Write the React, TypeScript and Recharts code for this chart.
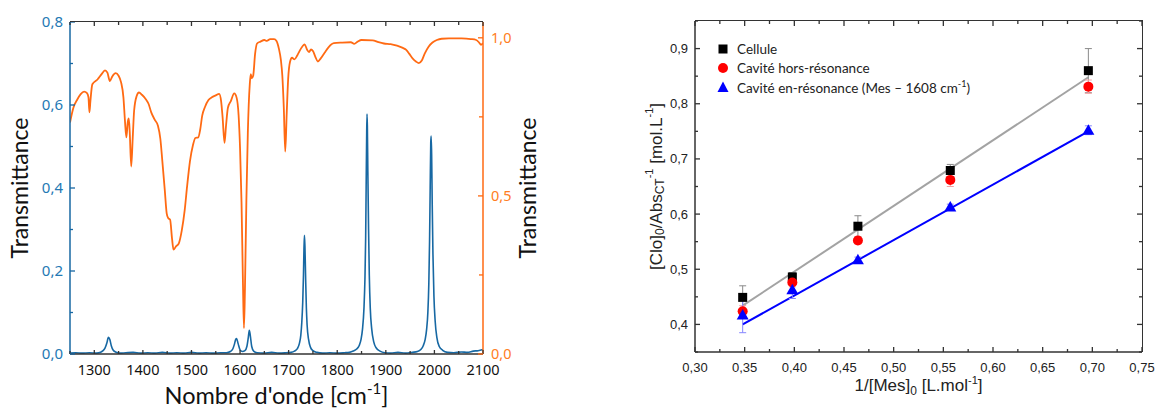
import React from "react";
import {
  LineChart,
  ComposedChart,
  Line,
  Scatter,
  XAxis,
  YAxis,
  ErrorBar,
  Legend,
  Label,
} from "recharts";

// ---- left panel: IR spectra ----
const wnOrange = [
  1250, 1257, 1265, 1272, 1279, 1285, 1288, 1290, 1292, 1296, 1307, 1315, 1322, 1327, 1332, 1337, 1344,
  1350, 1355, 1360, 1363, 1366, 1369, 1371, 1373, 1376, 1379, 1382, 1387, 1392, 1398, 1406, 1412, 1417,
  1424, 1431, 1436, 1440, 1445, 1449, 1452, 1456, 1460, 1463, 1468, 1474, 1480, 1486, 1491, 1497, 1503,
  1508, 1514, 1518, 1522, 1528, 1535, 1542, 1550, 1557, 1561, 1564, 1568, 1571, 1575, 1581, 1588, 1593,
  1597, 1600, 1603, 1606, 1608, 1610, 1613, 1616, 1620, 1622, 1624, 1627, 1631, 1635, 1642, 1650, 1655,
  1662, 1670, 1675, 1680, 1684, 1687, 1690, 1693, 1696, 1699, 1703, 1707, 1712, 1718, 1725, 1733, 1738,
  1742, 1746, 1750, 1755, 1760, 1766, 1774, 1782, 1793, 1810, 1828, 1835, 1842, 1850, 1873, 1885, 1896,
  1910, 1923, 1935, 1942, 1948, 1955, 1962, 1968, 1974, 1980, 1988, 1996, 2005, 2015, 2030, 2056, 2075,
  2086, 2092, 2096, 2100,
];
const tOrange = [
  0.732, 0.779, 0.805, 0.822, 0.83, 0.825, 0.812, 0.764, 0.8, 0.853, 0.869, 0.885, 0.897, 0.89, 0.863, 0.878, 0.888,
  0.88, 0.86, 0.811, 0.74, 0.685, 0.735, 0.745, 0.7, 0.593, 0.68, 0.77, 0.815, 0.827, 0.82, 0.806, 0.79, 0.765,
  0.742, 0.722, 0.68, 0.611, 0.52, 0.445, 0.43, 0.425, 0.365, 0.33, 0.34, 0.35, 0.39, 0.454, 0.53, 0.611, 0.66,
  0.683, 0.685, 0.71, 0.753, 0.782, 0.803, 0.812, 0.818, 0.823, 0.8, 0.75, 0.668, 0.72, 0.779, 0.8, 0.824, 0.81,
  0.755, 0.65, 0.48, 0.22, 0.082, 0.2, 0.485, 0.7, 0.853, 0.885, 0.872, 0.88, 0.95, 0.982, 0.988, 0.993, 0.99,
  0.996, 0.996, 0.99, 0.965, 0.93, 0.88, 0.78, 0.64, 0.76, 0.87, 0.925, 0.937, 0.932, 0.945, 0.965, 0.979, 0.962,
  0.955, 0.963, 0.958, 0.94, 0.925, 0.935, 0.953, 0.97, 0.983, 0.985, 0.986, 0.981, 0.988, 0.993, 0.992, 0.986, 0.982,
  0.98, 0.975, 0.968, 0.962, 0.95, 0.935, 0.925, 0.92, 0.928, 0.95, 0.972, 0.985, 0.993, 0.997, 0.998, 0.998, 0.996,
  0.993, 0.985, 0.978, 0.983,
];
const wnBlue = [
  1250, 1262, 1275, 1290, 1305, 1313, 1318, 1322, 1326, 1329, 1332, 1335, 1339, 1345, 1352, 1365, 1380, 1395,
  1410, 1425, 1440, 1455, 1470, 1485, 1500, 1515, 1530, 1545, 1560, 1572, 1580, 1585, 1588, 1591, 1593, 1596,
  1600, 1605, 1610, 1614, 1617, 1619, 1621, 1624, 1628, 1635, 1650, 1665, 1680, 1695, 1705, 1712, 1718, 1722,
  1725, 1727, 1729, 1730.5, 1731.5, 1732.5, 1733.5, 1735, 1736.5, 1738, 1741, 1745, 1750, 1758, 1770, 1785,
  1800, 1815, 1825, 1833, 1840, 1845, 1849, 1852, 1855, 1857, 1858.5, 1859.5, 1860.5, 1861.3, 1862, 1863,
  1864.5, 1866, 1868, 1871, 1875, 1880, 1888, 1898, 1910, 1925, 1940, 1955, 1965, 1972, 1977, 1981, 1984,
  1986.5, 1988.5, 1990, 1991.3, 1992.5, 1993.3, 1994.3, 1995.5, 1997, 1999, 2001.5, 2005, 2010, 2017, 2027,
  2040, 2055, 2068, 2080, 2090, 2100,
];
const tBlue = [
  0.002, 0.003, 0.002, 0.003, 0.002, 0.004, 0.008, 0.014, 0.027, 0.04, 0.035, 0.02, 0.009, 0.004, 0.002, 0.003, 0.004, 0.002,
  0.003, 0.002, 0.004, 0.002, 0.003, 0.002, 0.004, 0.002, 0.003, 0.002, 0.003, 0.003, 0.006, 0.012, 0.022, 0.035, 0.037, 0.025,
  0.01, 0.006, 0.008, 0.018, 0.04, 0.057, 0.045, 0.018, 0.007, 0.003, 0.002, 0.004, 0.002, 0.003, 0.004, 0.007, 0.013, 0.025,
  0.045, 0.075, 0.125, 0.19, 0.25, 0.286, 0.26, 0.18, 0.11, 0.07, 0.035, 0.016, 0.008, 0.004, 0.002, 0.003,
  0.002, 0.003, 0.004, 0.007, 0.012, 0.02, 0.035, 0.06, 0.11, 0.18, 0.28, 0.4, 0.52, 0.578, 0.55, 0.44,
  0.3, 0.19, 0.11, 0.06, 0.03, 0.015, 0.007, 0.003, 0.002, 0.004, 0.002, 0.004, 0.006, 0.011, 0.02, 0.035, 0.06,
  0.1, 0.17, 0.27, 0.4, 0.51, 0.525, 0.48, 0.36, 0.24, 0.14, 0.08, 0.04, 0.018, 0.009, 0.004,
  0.003, 0.005, 0.004, 0.007, 0.008, 0.011,
];
const specTicksX = [1250, 1300, 1350, 1400, 1450, 1500, 1550, 1600, 1650, 1700, 1750, 1800, 1850, 1900, 1950, 2000, 2050, 2100];
const specMajorsX = [1300, 1400, 1500, 1600, 1700, 1800, 1900, 2000, 2100];
const specTicksL = [0, 0.1, 0.2, 0.3, 0.4, 0.5, 0.6, 0.7, 0.8];
const specMajorsL = [0, 0.2, 0.4, 0.6, 0.8];
const specTicksR = [0, 0.25, 0.5, 0.75, 1];
const specMajorsR = [0, 0.5, 1];

// ---- right panel: [Clo]0/Abs vs 1/[Mes]0 ----
const mesInv = [0.348, 0.398, 0.464, 0.557, 0.696];
const cellY = [0.449, 0.486, 0.578, 0.679, 0.86];
const cellErr = [0.021, 0.008, 0.019, 0.011, 0.04];
const horsY = [0.424, 0.476, 0.552, 0.662, 0.831];
const horsErr = [0.01, 0.008, 0.006, 0.012, 0.012];
const resY = [0.417, 0.463, 0.517, 0.613, 0.752];
const resErr = [0.032, 0.016, 0.005, 0.005, 0.008];
const fitX = [0.348, 0.696];
const fitCell = [0.434, 0.848];
const fitRes = [0.4, 0.75];
const legendLabels = [["Cellule"], ["Cavité hors-résonance"], ["Cavité en-résonance (Mes – 1608 cm", "-1", ")"]];
const rTicksX = [0.3, 0.325, 0.35, 0.375, 0.4, 0.425, 0.45, 0.475, 0.5, 0.525, 0.55, 0.575, 0.6, 0.625, 0.65, 0.675, 0.7, 0.725, 0.75];
const rMajorsX = [0.3, 0.35, 0.4, 0.45, 0.5, 0.55, 0.6, 0.65, 0.7, 0.75];
const rTicksY = [0.35, 0.4, 0.45, 0.5, 0.55, 0.6, 0.65, 0.7, 0.75, 0.8, 0.85, 0.9, 0.95];
const rMajorsY = [0.4, 0.5, 0.6, 0.7, 0.8, 0.9];

const zip = (xs: number[], ys: number[], es?: number[]) =>
  xs.map((x, i) => ({ x, y: ys[i], e: es ? es[i] : 0 }));

const BLUE = "#1768a3";
const BLUE_TXT = "#2479b4";
const ORANGE = "#ff6a13";
const ORANGE_TXT = "#ff7d22";
const FRAME = "#333";

type TickOpts = {
  side: "left" | "right" | "bottom";
  pos: number;
  mirror?: number; // opposite frame edge that gets the same inward ticks
  majors: number[];
  fmt?: (v: number) => string;
  majLen: number;
  minLen: number;
  stroke: string;
  color?: string;
  font?: string;
  size?: number;
  gap?: number;
};

// draws inward tick marks (major / minor), mirrored ticks and the label for majors
const makeTick = (o: TickOpts) => (p: any) => {
  const v = p.payload.value;
  const isMaj = o.majors.some((m) => Math.abs(m - v) < 1e-6);
  const len = isMaj ? o.majLen : o.minLen;
  const label = isMaj && o.fmt ? o.fmt(v) : null;
  const tp = { fill: o.color, fontFamily: o.font, fontSize: o.size };
  const gap = o.gap ?? 6;
  if (o.side === "left" || o.side === "right") {
    const y = p.y;
    const dir = o.side === "left" ? 1 : -1;
    return (
      <g>
        <rect x={dir > 0 ? o.pos : o.pos - len} y={y - 0.65} width={len} height={1.3} fill={o.stroke} />
        {o.mirror != null && (
          <rect x={dir > 0 ? o.mirror - len : o.mirror} y={y - 0.65} width={len} height={1.3} fill={o.stroke} />
        )}
        {label && (
          <text x={o.pos - dir * gap} y={y} dy="0.35em" textAnchor={o.side === "left" ? "end" : "start"} {...tp}>
            {label}
          </text>
        )}
      </g>
    );
  }
  const x = p.x;
  return (
    <g>
      <rect x={x - 0.65} y={o.pos - len} width={1.3} height={len} fill={o.stroke} />
      {o.mirror != null && <rect x={x - 0.65} y={o.mirror} width={1.3} height={len} fill={o.stroke} />}
      {label && (
        <text x={x} y={o.pos + gap} dy="0.75em" textAnchor="middle" {...tp}>
          {label}
        </text>
      )}
    </g>
  );
};

const comma = (d: number) => (v: number) => v.toFixed(d).replace(".", ",");

// closes the plot box along its top (and right) edge
const FrameBox = ({ x0, x1, y0, y1, w, right }: { x0: number; x1: number; y0: number; y1: number; w: number; right: boolean }) => (
  <div
    style={{
      position: "absolute",
      left: x0,
      top: y0 - w / 2,
      width: x1 - x0 + (right ? w / 2 : 0),
      height: y1 - y0 + w / 2,
      boxSizing: "border-box",
      borderTop: `${w}px solid ${FRAME}`,
      borderRight: right ? `${w}px solid ${FRAME}` : "none",
      pointerEvents: "none",
    }}
  />
);

const SpectraChart = () => {
  const X0 = 70, X1 = 483, Y0 = 22, Y1 = 354;
  const orangeData = zip(wnOrange, tOrange);
  const blueData = zip(wnBlue, tBlue);
  const titleFont = "Lato";
  return (
    <div style={{ position: "relative", width: 560, height: 408 }}>
      <LineChart width={560} height={408} margin={{ top: Y0, right: 0, bottom: 0, left: 0 }}>
        <XAxis
          type="number"
          dataKey="x"
          domain={[1250, 2100]}
          ticks={specTicksX}
          interval={0}
          height={408 - Y1}
          allowDataOverflow
          tickLine={false}
          axisLine={{ stroke: FRAME, strokeWidth: 1.3 }}
          tick={makeTick({ side: "bottom", pos: Y1, mirror: Y0, majors: specMajorsX, fmt: (v) => String(v), majLen: 4, minLen: 3, stroke: FRAME, color: "#111", font: "Noto Sans", size: 14.5, gap: 10 })}
        >
          <Label
            content={() => (
              <text x={(X0 + X1) / 2} y={404} textAnchor="middle" fontFamily={titleFont} fontSize={23.5} fill="#111">
                Nombre d'onde [cm<tspan dy={-10} fontSize={15}>-1</tspan>
                <tspan dy={10}>]</tspan>
              </text>
            )}
          />
        </XAxis>
        <YAxis
          type="number"
          dataKey="y"
          domain={[0, 0.8]}
          ticks={specTicksL}
          interval={0}
          width={X0}
          allowDataOverflow
          tickLine={false}
          axisLine={{ stroke: BLUE, strokeWidth: 1.5 }}
          tick={makeTick({ side: "left", pos: X0, majors: specMajorsL, fmt: comma(1), majLen: 5, minLen: 3, stroke: BLUE, color: BLUE_TXT, font: "Noto Sans", size: 15, gap: 7 })}
        >
          <Label
            content={() => (
              <text x={19} y={(Y0 + Y1) / 2} transform={`rotate(-90 19 ${(Y0 + Y1) / 2})`} textAnchor="middle" dominantBaseline="central" fontFamily={titleFont} fontSize={23} fill="#111">
                Transmittance
              </text>
            )}
          />
        </YAxis>
        <YAxis
          yAxisId="r"
          orientation="right"
          type="number"
          dataKey="y"
          domain={[0, 1.05]}
          ticks={specTicksR}
          interval={0}
          width={560 - X1}
          allowDataOverflow
          tickLine={false}
          axisLine={{ stroke: ORANGE, strokeWidth: 1.5 }}
          tick={makeTick({ side: "right", pos: X1, majors: specMajorsR, fmt: comma(1), majLen: 5, minLen: 4, stroke: ORANGE, color: ORANGE_TXT, font: "Noto Sans", size: 14.5, gap: 8 })}
        >
          <Label
            content={() => (
              <text x={527} y={(Y0 + Y1) / 2} transform={`rotate(-90 527 ${(Y0 + Y1) / 2})`} textAnchor="middle" dominantBaseline="central" fontFamily={titleFont} fontSize={23} fill="#111">
                Transmittance
              </text>
            )}
          />
        </YAxis>
        <Line data={orangeData} yAxisId="r" dataKey="y" type="monotone" stroke={ORANGE} strokeWidth={1.8} dot={false} isAnimationActive={false} />
        <Line data={blueData} dataKey="y" type="monotone" stroke={BLUE} strokeWidth={1.6} dot={false} isAnimationActive={false} />
      </LineChart>
      <FrameBox x0={X0} x1={X1} y0={Y0} y1={Y1} w={1.3} right={false} />
    </div>
  );
};

const squareShape = (p: any) => <rect x={p.cx - 4.5} y={p.cy - 4.5} width={9} height={9} fill="#000" />;
const circleShape = (p: any) => <circle cx={p.cx} cy={p.cy} r={5} fill="#f00" />;
const triangleShape = (p: any) => (
  <polygon points={`${p.cx},${p.cy - 6} ${p.cx - 6},${p.cy + 4.5} ${p.cx + 6},${p.cy + 4.5}`} fill="#0000ff" />
);

const legendIcons = [
  <rect key="s" x={1.5} y={1.5} width={9} height={9} fill="#000" />,
  <circle key="c" cx={6} cy={6} r={5} fill="#f00" />,
  <polygon key="t" points="6,0.5 0.5,11 11.5,11" fill="#0000ff" />,
];

const renderLegend = () => (
  <div style={{ fontFamily: "Lato", fontSize: 13.5, color: "#222" }}>
    {legendLabels.map((parts, i) => (
      <div key={i} style={{ display: "flex", alignItems: "center", height: 19, whiteSpace: "nowrap" }}>
        <svg width={12} height={12}>{legendIcons[i]}</svg>
        <span style={{ marginLeft: 8 }}>
          {parts[0]}
          {parts[1] && <sup style={{ fontSize: 9 }}>{parts[1]}</sup>}
          {parts[2]}
        </span>
      </div>
    ))}
  </div>
);

const RegressionChart = () => {
  const X0 = 95, X1 = 542, Y0 = 21, Y1 = 352;
  const tickFont = "Liberation Sans";
  return (
    <div style={{ position: "relative", width: 556, height: 408 }}>
      <ComposedChart width={556} height={408} margin={{ top: Y0, right: 556 - X1, bottom: 0, left: 0 }}>
        <XAxis
          type="number"
          dataKey="x"
          domain={[0.3, 0.75]}
          ticks={rTicksX}
          interval={0}
          height={408 - Y1}
          allowDataOverflow
          tickLine={false}
          axisLine={{ stroke: FRAME, strokeWidth: 1.5 }}
          tick={makeTick({ side: "bottom", pos: Y1, mirror: Y0, majors: rMajorsX, fmt: comma(2), majLen: 5, minLen: 3, stroke: FRAME, color: "#222", font: tickFont, size: 13, gap: 10 })}
        >
          <Label
            content={() => (
              <text x={(X0 + X1) / 2} y={391} textAnchor="middle" fontFamily={tickFont} fontSize={17} fill="#222">
                1/[Mes]<tspan dy={4} fontSize={12}>0</tspan>
                <tspan dy={-4}> [L.mol</tspan>
                <tspan dy={-7} fontSize={11}>-1</tspan>
                <tspan dy={7}>]</tspan>
              </text>
            )}
          />
        </XAxis>
        <YAxis
          type="number"
          dataKey="y"
          domain={[0.35, 0.95]}
          ticks={rTicksY}
          interval={0}
          width={X0}
          allowDataOverflow
          tickLine={false}
          axisLine={{ stroke: FRAME, strokeWidth: 1.5 }}
          tick={makeTick({ side: "left", pos: X0, mirror: X1, majors: rMajorsY, fmt: comma(1), majLen: 5, minLen: 3, stroke: FRAME, color: "#222", font: tickFont, size: 13, gap: 7 })}
        >
          <Label
            content={() => (
              <text x={56} y={(Y0 + Y1) / 2} transform={`rotate(-90 56 ${(Y0 + Y1) / 2})`} textAnchor="middle" dominantBaseline="central" fontFamily={tickFont} fontSize={17} fill="#222">
                [Clo]<tspan dy={4} fontSize={12}>0</tspan>
                <tspan dy={-4}>/Abs</tspan>
                <tspan dy={4} fontSize={12}>CT</tspan>
                <tspan dy={-11} fontSize={11}>-1</tspan>
                <tspan dy={7}> [mol.L</tspan>
                <tspan dy={-7} fontSize={11}>-1</tspan>
                <tspan dy={7}>]</tspan>
              </text>
            )}
          />
        </YAxis>
        <Line data={zip(fitX, fitCell)} dataKey="y" type="linear" stroke="#a3a3a3" strokeWidth={2} dot={false} isAnimationActive={false} />
        <Line data={zip(fitX, fitRes)} dataKey="y" type="linear" stroke="#0000ff" strokeWidth={2} dot={false} isAnimationActive={false} />
        <Scatter data={zip(mesInv, cellY, cellErr)} dataKey="y" shape={squareShape} isAnimationActive={false}>
          <ErrorBar dataKey="e" direction="y" width={3.5} stroke="#8a8a8a" strokeWidth={1} />
        </Scatter>
        <Scatter data={zip(mesInv, horsY, horsErr)} dataKey="y" shape={circleShape} isAnimationActive={false}>
          <ErrorBar dataKey="e" direction="y" width={3.5} stroke="#f3a0a0" strokeWidth={1} />
        </Scatter>
        <Scatter data={zip(mesInv, resY, resErr)} dataKey="y" shape={triangleShape} isAnimationActive={false}>
          <ErrorBar dataKey="e" direction="y" width={3.5} stroke="#8585ff" strokeWidth={1} />
        </Scatter>
        <Legend
          content={renderLegend}
          layout="vertical"
          align="center"
          verticalAlign="middle"
          wrapperStyle={{ left: 117, top: 39, width: "auto", height: "auto" }}
        />
      </ComposedChart>
      <FrameBox x0={X0} x1={X1} y0={Y0} y1={Y1} w={1.5} right={true} />
    </div>
  );
};

export default function App() {
  return (
    <div style={{ position: "absolute", left: 0, top: 0, width: 1156, height: 408, background: "#fff" }}>
      <div style={{ position: "absolute", left: 0, top: 0 }}>
        <SpectraChart />
      </div>
      <div style={{ position: "absolute", left: 600, top: 0 }}>
        <RegressionChart />
      </div>
    </div>
  );
}
